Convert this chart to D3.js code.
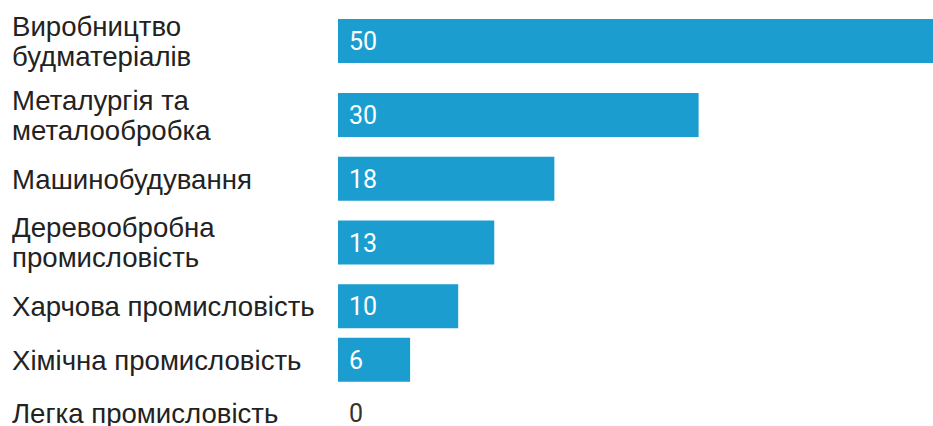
<!DOCTYPE html>
<html lang="uk">
<head>
<meta charset="utf-8">
<title>Галузі промисловості</title>
<style>
body{margin:0;background:#fff;}
svg{display:block;}
</style>
</head>
<body>
<div id="chart"></div>
<script src="https://cdn.jsdelivr.net/npm/d3@7"></script>
<script>
// data
var categories = [
  ["Виробництво", "будматеріалів"],
  ["Металургія та", "металообробка"],
  ["Машинобудування"],
  ["Деревообробна", "промисловість"],
  ["Харчова промисловість"],
  ["Хімічна промисловість"],
  ["Легка промисловість"]
];
var values = [50, 30, 18, 13, 10, 6, 0];

var width = 933,
    height = 426;

var svg = d3.select("#chart").append("svg")
    .attr("width", width)
    .attr("height", height);

// rows with two-line labels are taller
function rowH(lines){ return 33 + 20.5*lines; }
var tops = [], acc = 4;
categories.forEach(function(c){ tops.push(acc); acc += rowH(c.length); });

var x = d3.scaleLinear().domain([0, 50]).range([338, 939]);

var rows = svg.selectAll("g.row").data(values)
  .enter().append("g")
    .attr("class", "row")
    .attr("transform", function(d,i){
      return "translate(0," + (tops[i] + rowH(categories[i].length)/2) + ")";
    });

rows.append("rect")
    .attr("x", x(0))
    .attr("y", -22)
    .attr("height", 44)
    .attr("width", function(d){ return x(d) - x(0); })
    .attr("fill", "#1b9dd0");

rows.append("text")
    .attr("x", x(0) + 11)
    .attr("dy", "0.36em")
    .attr("font-family", "Roboto, sans-serif")
    .attr("font-size", 25)
    .attr("fill", function(d){ return d > 0 ? "#fff" : "#333"; })
    .text(function(d){ return d; });

rows.append("text")
    .attr("x", 12)
    .attr("font-family", "'Liberation Sans', Arial, sans-serif")
    .attr("font-size", 27.6)
    .attr("fill", "#222")
    .each(function(d,i){
      var lines = categories[i];
      var t = d3.select(this);
      lines.forEach(function(l,j){
        t.append("tspan")
          .attr("x", 12)
          .attr("y", (j - (lines.length-1)/2)*30)
          .attr("dy", "0.36em")
          .text(l);
      });
    });
</script>
</body>
</html>
